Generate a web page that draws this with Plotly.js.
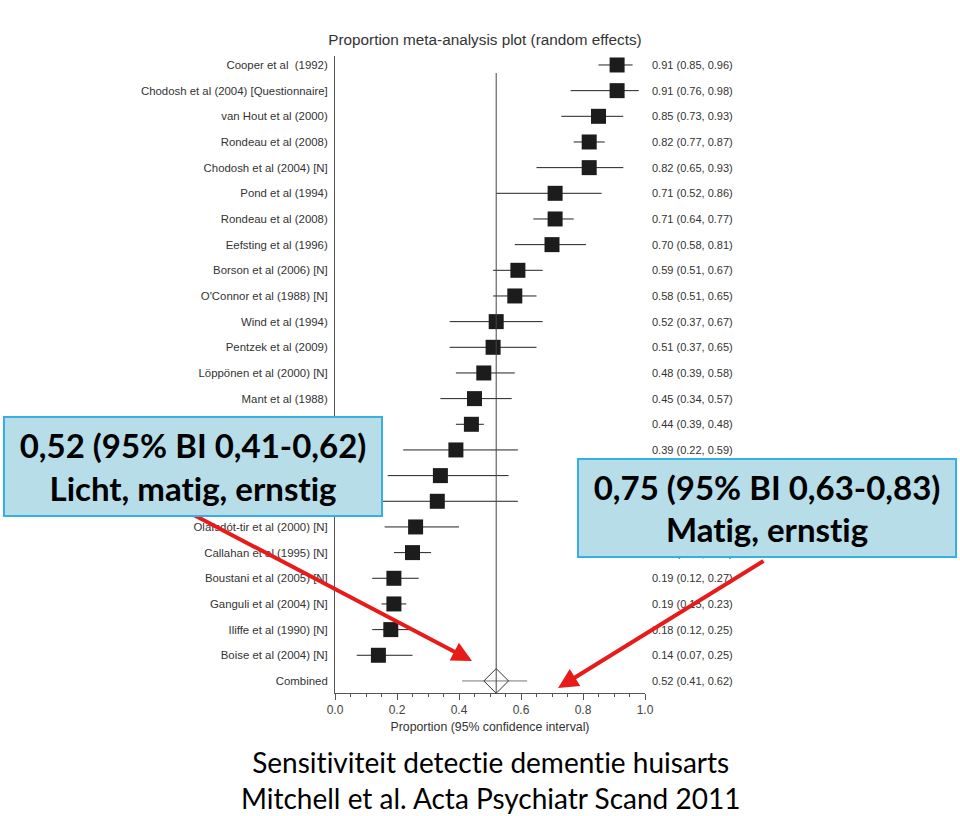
<!DOCTYPE html>
<html>
<head>
<meta charset="utf-8">
<script src="https://cdn.plot.ly/plotly-3.0.1.min.js"></script>
<style>
html,body{margin:0;padding:0;background:#fff}
#grafico{width:960px;height:816px}
text{font-variant-ligatures:none !important;font-feature-settings:"liga" 0,"clig" 0 !important}
</style>
</head>
<body>
<div id="grafico"></div>
<script>
// studies, top to bottom (names under the callout box are unreadable)
var studies = [
  "Cooper et al  (1992)", "Chodosh et al (2004) [Questionnaire]", "van Hout et al (2000)",
  "Rondeau et al (2008)", "Chodosh et al (2004) [N]", "Pond et al (1994)", "Rondeau et al (2008)",
  "Eefsting et al (1996)", "Borson et al (2006) [N]", "O'Connor et al (1988) [N]", "Wind et al (1994)",
  "Pentzek et al (2009)", "Löppönen et al (2000) [N]", "Mant et al (1988)",
  "", "", "", "",
  "Olafsdót-tir et al (2000) [N]", "Callahan et al (1995) [N]", "Boustani et al (2005) [N]",
  "Ganguli et al (2004) [N]", "Iliffe et al (1990) [N]", "Boise et al (2004) [N]"
];
var est = [0.91, 0.91, 0.85, 0.82, 0.82, 0.71, 0.71, 0.70, 0.59, 0.58, 0.52, 0.51, 0.48, 0.45,
           0.44, 0.39, 0.34, 0.33, 0.26, 0.25, 0.19, 0.19, 0.18, 0.14];
var lo  = [0.85, 0.76, 0.73, 0.77, 0.65, 0.52, 0.64, 0.58, 0.51, 0.51, 0.37, 0.37, 0.39, 0.34,
           0.39, 0.22, 0.17, 0.14, 0.16, 0.19, 0.12, 0.15, 0.12, 0.07];
var hi  = [0.96, 0.98, 0.93, 0.87, 0.93, 0.86, 0.77, 0.81, 0.67, 0.65, 0.67, 0.65, 0.58, 0.57,
           0.48, 0.59, 0.56, 0.59, 0.40, 0.31, 0.27, 0.23, 0.25, 0.25];
var combinedLabel = "Combined";
var combinedEst = 0.52, combinedLo = 0.41, combinedHi = 0.62;

var rows = studies.map(function(s, i){ return i; });
var nComb = studies.length;
function fmt(e, l, h){ return e.toFixed(2) + " (" + l.toFixed(2) + ", " + h.toFixed(2) + ")"; }

var squares = {
  x: est, y: rows, mode: "markers", type: "scatter",
  marker: {symbol: "square", size: 15, color: "#1c1c1c"},
  error_x: {type: "data", symmetric: false,
    array: hi.map(function(h, i){ return h - est[i]; }),
    arrayminus: lo.map(function(l, i){ return est[i] - l; }),
    width: 0, thickness: 1, color: "#222"},
  hoverinfo: "skip"
};
var combined = {
  x: [combinedEst], y: [nComb], mode: "markers", type: "scatter",
  marker: {symbol: "diamond-open", size: 19, color: "#333", line: {width: 1}},
  error_x: {type: "data", symmetric: false, array: [combinedHi - combinedEst],
    arrayminus: [combinedEst - combinedLo], width: 0, thickness: 1, color: "#777"},
  hoverinfo: "skip"
};

// pixel helpers for the plot area (l=335, w=310, t=56, h=637)
function px(x){ return (x - 335) / 310; }
function py(y){ return (693 - y) / 637; }

var annotations = [];
// right-hand value column
rows.concat([nComb]).forEach(function(i){
  var t = i < nComb ? fmt(est[i], lo[i], hi[i]) : fmt(combinedEst, combinedLo, combinedHi);
  annotations.push({xref: "paper", yref: "y", x: 1.015, y: i, text: t, showarrow: false,
    xanchor: "left", font: {family: "Liberation Sans, Arial", size: 11, color: "#333"}});
});
// red arrows
annotations.push({xref: "paper", yref: "paper", x: px(472), y: py(661), ax: -282, ay: -148,
  text: "", showarrow: true, arrowhead: 2, arrowsize: 1, arrowwidth: 4, arrowcolor: "#e81b1b", standoff: 0});
annotations.push({xref: "paper", yref: "paper", x: px(558), y: py(688), ax: 207, ay: -128,
  text: "", showarrow: true, arrowhead: 2, arrowsize: 1, arrowwidth: 4, arrowcolor: "#e81b1b", standoff: 0});
// callout boxes
annotations.push({xref: "paper", yref: "paper", x: px(193), y: py(466.5), xanchor: "center", yanchor: "middle",
  text: "<b>0,52 (95% BI 0,41-0,62)</b><br><b>Licht, matig, ernstig</b>", showarrow: false,
  width: 376, height: 97, bgcolor: "#b6dde8", bordercolor: "#36b0e0", borderwidth: 2, borderpad: 0,
  font: {family: "Lato, sans-serif", size: 33, color: "#000"}});
annotations.push({xref: "paper", yref: "paper", x: px(767), y: py(508), xanchor: "center", yanchor: "middle",
  text: "<b>0,75 (95% BI 0,63-0,83)</b><br><b>Matig, ernstig</b>", showarrow: false,
  width: 376, height: 96, bgcolor: "#b6dde8", bordercolor: "#36b0e0", borderwidth: 2, borderpad: 0,
  font: {family: "Lato, sans-serif", size: 33, color: "#000"}});
// caption
annotations.push({xref: "paper", yref: "paper", x: px(490), y: py(780), xanchor: "center", yanchor: "middle",
  text: "Sensitiviteit detectie dementie huisarts<br>Mitchell et al. Acta Psychiatr Scand 2011",
  showarrow: false, font: {family: "Lato, sans-serif", size: 28, color: "#000"}});

var layout = {
  width: 960, height: 816,
  margin: {l: 335, r: 315, t: 56, b: 123},
  paper_bgcolor: "#fff", plot_bgcolor: "#fff",
  showlegend: false,
  title: {text: "Proportion meta-analysis plot (random effects)", x: px(485), xref: "paper",
    y: 1 - 40 / 816, yanchor: "middle",
    font: {family: "Liberation Sans, Arial", size: 15.3, color: "#333"}},
  xaxis: {range: [0, 1], dtick: 0.2, tickformat: ".1f", showgrid: false, zeroline: false,
    showline: true, linecolor: "#555", linewidth: 1, ticks: "outside", ticklen: 6, tickcolor: "#555",
    minor: {dtick: 0.05, ticks: "outside", ticklen: 3, tickcolor: "#555"},
    tickfont: {family: "Liberation Sans, Arial", size: 12, color: "#444"},
    title: {text: "Proportion (95% confidence interval)", standoff: 5,
      font: {family: "Liberation Sans, Arial", size: 12.3, color: "#333"}}},
  yaxis: {range: [nComb + 0.47, -0.35], tickvals: rows.concat([nComb]), ticktext: studies.concat([combinedLabel]),
    showgrid: false, zeroline: false, showline: true, linecolor: "#555", linewidth: 1, ticks: "",
    ticklabelstandoff: 4, tickfont: {family: "Liberation Sans, Arial", size: 11.4, color: "#333"}},
  shapes: [{type: "line", xref: "x", yref: "paper", x0: combinedEst, x1: combinedEst, y0: 0, y1: py(73),
    line: {color: "#444", width: 1}}],
  annotations: annotations
};

Plotly.newPlot("grafico", [squares, combined], layout, {displayModeBar: false});
</script>
</body>
</html>
